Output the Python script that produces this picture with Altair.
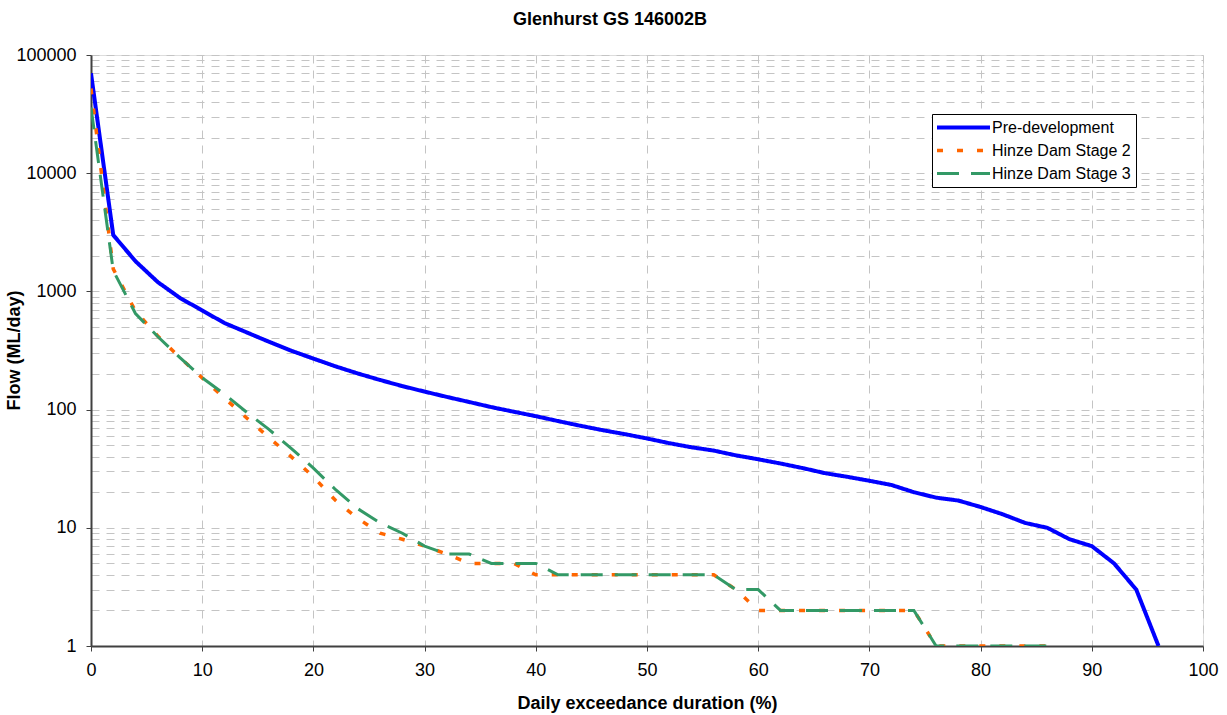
import altair as alt
import pandas as pd

# Series names (legend order) and styling
series_names = ["Pre-development", "Hinze Dam Stage 2", "Hinze Dam Stage 3"]
series_colors = ["#0000FF", "#FF6600", "#339966"]
series_dashes = [[1, 0], [6, 14], [22, 12]]
series_widths = [4, 3, 3]

# Flow duration curves: daily exceedance (%) vs flow (ML/day)
pre_dev_pct = list(range(0, 98, 2))
pre_dev_flow = [
    70000, 3000, 1800, 1200, 880, 690, 540, 450, 375, 315,
    270, 232, 202, 178, 158, 142, 128, 116, 105, 96,
    88, 80, 73, 67, 62, 57, 52, 48, 45, 41,
    38, 35, 32, 29, 27, 25, 23, 20, 18, 17,
    15, 13, 11, 10, 8, 7, 5, 3, 1,
]

stage2_pct = list(range(0, 88, 2))
stage2_flow = [
    52000, 1550, 680, 420, 275, 185, 125, 85, 58, 40,
    27, 17, 12, 9, 8, 7, 6, 5, 5, 5,
    4, 4, 4, 4, 4, 4, 4, 4, 4, 3,
    2, 2, 2, 2, 2, 2, 2, 2, 1, 1,
    1, 1, 1, 1,
]

stage3_pct = list(range(0, 88, 2))
stage3_flow = [
    36000, 1500, 650, 415, 275, 186, 135, 95, 68, 47,
    32, 21, 14.5, 11, 9, 7, 6, 6, 5, 5,
    5, 4, 4, 4, 4, 4, 4, 4, 4, 3,
    3, 2, 2, 2, 2, 2, 2, 2, 1, 1,
    1, 1, 1, 1,
]

# Axis tick values
x_ticks = list(range(0, 110, 10))
decades = [1, 10, 100, 1000, 10000, 100000]
y_grid_values = [m * d for d in decades[:-1] for m in range(1, 10)] + [100000]

frames = []
for name, pct, flow in [
    (series_names[0], pre_dev_pct, pre_dev_flow),
    (series_names[1], stage2_pct, stage2_flow),
    (series_names[2], stage3_pct, stage3_flow),
]:
    frames.append(pd.DataFrame({"series": name, "pct": pct, "flow": flow}))
df = pd.concat(frames, ignore_index=True)

FONT = "Liberation Sans"
decade_test = "indexof([1,10,100,1000,10000,100000], datum.value) >= 0"

legend = alt.Legend(
    title=None,
    orient="none",
    legendX=841,
    legendY=59,
    symbolType="stroke",
    symbolSize=2809,
    symbolOffset=-2,
    clipHeight=17,
    labelFont=FONT,
    labelFontSize=16,
    labelColor="black",
    labelOffset=0,
    padding=5,
    rowPadding=6,
    strokeColor="black",
    fillColor="white",
    cornerRadius=0,
)

x_enc = alt.X(
    "pct:Q",
    scale=alt.Scale(domain=[0, 100], nice=False),
    axis=alt.Axis(
        values=x_ticks,
        title="Daily exceedance duration (%)",
        titleFont=FONT,
        titleFontSize=18,
        titleFontWeight="bold",
        titleColor="black",
        titlePadding=15,
        labelFont=FONT,
        labelFontSize=18,
        labelColor="black",
        labelPadding=10,
        labelFlush=False,
        tickSize=5,
        tickColor="#404040",
        domainColor="#404040",
        domainWidth=2,
        grid=True,
        gridColor="#c4c4c4",
        gridDash=[8, 7],
        gridWidth=1,
    ),
)

y_enc = alt.Y(
    "flow:Q",
    scale=alt.Scale(type="log", domain=[1, 100000], nice=False),
    axis=alt.Axis(
        values=y_grid_values,
        format="d",
        labelExpr=f"({decade_test}) ? datum.label : ''",
        title="Flow (ML/day)",
        titleFont=FONT,
        titleFontSize=18,
        titleFontWeight="bold",
        titleColor="black",
        titleX=-68,
        titleY=295,
        labelFont=FONT,
        labelFontSize=18,
        labelColor="black",
        labelPadding=10,
        labelFlush=False,
        tickSize=5,
        tickColor="#404040",
        tickOpacity={"condition": {"test": decade_test, "value": 1}, "value": 0},
        domainColor="#404040",
        domainWidth=2,
        grid=True,
        gridColor="#c4c4c4",
        gridDash=[8, 7],
        gridWidth=1,
    ),
)

color_enc = alt.Color(
    "series:N",
    scale=alt.Scale(domain=series_names, range=series_colors),
    legend=legend,
)
dash_enc = alt.StrokeDash(
    "series:N",
    scale=alt.Scale(domain=series_names, range=series_dashes),
    legend=legend,
)
width_enc = alt.StrokeWidth(
    "series:N",
    scale=alt.Scale(domain=series_names, range=series_widths),
    legend=legend,
)

base = alt.Chart(df).encode(
    x=x_enc, y=y_enc, color=color_enc, strokeDash=dash_enc, strokeWidth=width_enc
)

layers = [
    base.transform_filter(alt.datum.series == name).mark_line(clip=True)
    for name in series_names
]

chart = (
    alt.layer(*layers)
    .properties(
        width=1112,
        height=591,
        title=alt.TitleParams(
            "Glenhurst GS 146002B",
            font=FONT,
            fontSize=18,
            fontWeight="bold",
            color="black",
            anchor="middle",
            dx=-37,
            offset=17,
        ),
        padding={"left": 91, "top": 55, "right": 24, "bottom": 69},
        autosize=alt.AutoSizeParams(type="none"),
    )
    .configure_view(stroke="#8c8c8c", strokeWidth=2)
    .configure(background="white")
)

chart.save("out.html", embed_options={"renderer": "svg", "actions": False})
